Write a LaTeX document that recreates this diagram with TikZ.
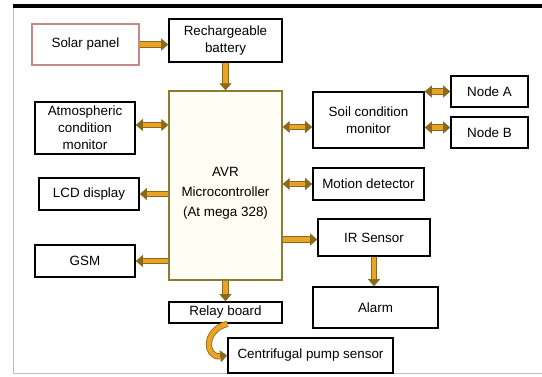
\documentclass[tikz,border=0pt]{standalone}
\usepackage{fontspec}
\setmainfont{Liberation Sans}
\usetikzlibrary{arrows.meta, positioning, calc}
\definecolor{amber}{HTML}{E9A425}
\definecolor{amberedge}{HTML}{8A6A1A}
\definecolor{olive}{HTML}{8C7B33}
\definecolor{cream}{HTML}{FFFEF4}
\definecolor{rose}{HTML}{C48A8A}
\tikzset{
  block/.style={draw, line width=1.6pt, align=center, inner sep=0pt, fill=white},
  mcu/.style={draw=olive, line width=1.4pt, align=center, inner sep=0pt, fill=cream},
  source/.style={draw=rose, line width=1.2pt, align=center, inner sep=0pt},
  link/.style={draw=amberedge, line width=0.8pt, double=amber, double distance=4.6pt},
  every node/.style={font=\fontsize{13.4}{17}\selectfont}
}
\begin{document}
\begin{tikzpicture}[x=1pt, y=-1pt]
    \useasboundingbox (0,0) rectangle (542,376);
    % page frame
    \fill[black] (13,4) rectangle (542,8);
    \draw[black!25, line width=1.5pt] (13.5,8) -- (13.5,373.5) -- (542,373.5);
    % blocks
    \node[source, minimum width=107pt, minimum height=41pt] (solar) at (85.5,44.5) {Solar panel};
    \node[block, minimum width=113pt, minimum height=43pt] (battery) at (225.5,40.5) {Rechargeable\\battery};
    \node[mcu, minimum width=113pt, minimum height=189pt, text height=65pt, font=\fontsize{13.4}{20}\selectfont] (avr) at (225.5,185.5) {AVR\\Microcontroller\\(At mega 328)};
    \node[block, minimum width=100pt, minimum height=52pt] (atmos) at (85,128) {Atmospheric\\condition\\monitor};
    \node[block, minimum width=100pt, minimum height=32pt] (lcd) at (89,194) {LCD display};
    \node[block, minimum width=100pt, minimum height=32pt] (gsm) at (85,261) {GSM};
    \node[block, minimum width=113pt, minimum height=21pt] (relay) at (225.5,312.5) {Relay board};
    \node[block, minimum width=165pt, minimum height=35pt] (pump) at (310.5,355.5) {Centrifugal pump sensor};
    \node[block, minimum width=111pt, minimum height=56pt] (soil) at (368.5,120) {Soil condition\\monitor};
    \node[block, minimum width=77pt, minimum height=31pt] (nodea) at (489.5,91.5) {Node A};
    \node[block, minimum width=77pt, minimum height=31pt] (nodeb) at (489.5,132.5) {Node B};
    \node[block, minimum width=111pt, minimum height=32pt] (motion) at (368.5,184) {Motion detector};
    \node[block, minimum width=112pt, minimum height=37pt] (ir) at (374,237.5) {IR Sensor};
    \node[block, minimum width=125pt, minimum height=41pt] (alarm) at (375.5,307.5) {Alarm};
    % connectors
    \draw[link, -{Triangle[length=7pt, width=12pt]}] (solar.east) -- (solar.east -| battery.west);
    \draw[link, -{Triangle[length=7pt, width=12pt]}] (battery.south) -- (avr.north);
    \draw[link, {Triangle[length=7pt, width=12pt]}-{Triangle[length=7pt, width=12pt]}] ([yshift=3pt]atmos.east) -- ([yshift=3pt]atmos.east -| avr.west);
    \draw[link, -{Triangle[length=7pt, width=12pt]}] (lcd.east -| avr.west) -- (lcd.east);
    \draw[link, -{Triangle[length=7pt, width=12pt]}] (gsm.east -| avr.west) -- (gsm.east);
    \draw[link, -{Triangle[length=7pt, width=12pt]}] (avr.south) -- (relay.north);
    \draw[link, -{Triangle[length=7pt, width=12pt]}] ([xshift=2pt]relay.south) .. controls (203,330) and (205,358) .. (pump.west);
    \draw[link, {Triangle[length=7pt, width=12pt]}-{Triangle[length=7pt, width=12pt]}] ([yshift=-7pt]soil.west -| avr.east) -- ([yshift=-7pt]soil.west);
    \draw[link, {Triangle[length=7pt, width=12pt]}-{Triangle[length=7pt, width=12pt]}] (nodea.west -| soil.east) -- (nodea.west);
    \draw[link, {Triangle[length=7pt, width=12pt]}-{Triangle[length=7pt, width=12pt]}] ([yshift=5pt]nodeb.west -| soil.east) -- ([yshift=5pt]nodeb.west);
    \draw[link, {Triangle[length=7pt, width=12pt]}-{Triangle[length=7pt, width=12pt]}] (motion.west -| avr.east) -- (motion.west);
    \draw[link, -{Triangle[length=7pt, width=12pt]}] ([yshift=-2pt]ir.west -| avr.east) -- ([yshift=-2pt]ir.west);
    \draw[link, -{Triangle[length=7pt, width=12pt]}] (ir.south) -- (ir.south |- alarm.north);
\end{tikzpicture}
\end{document}
